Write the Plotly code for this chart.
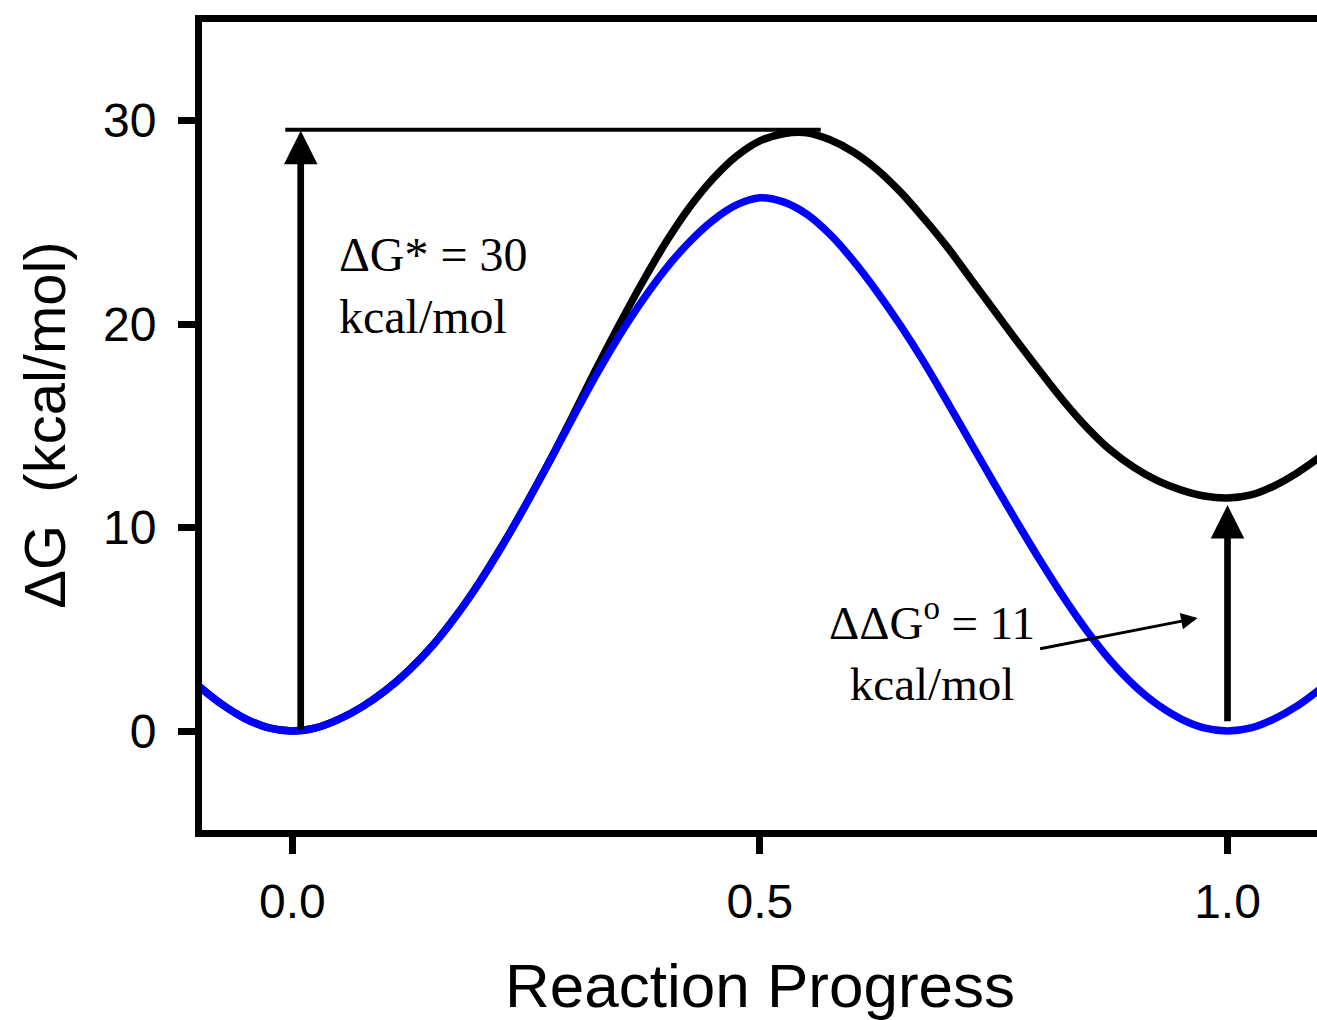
import plotly.graph_objects as go

# Reaction coordinate samples
progress = [-0.100, -0.075, -0.050, -0.025, 0.000, 0.025, 0.050, 0.075, 0.100, 0.125,
            0.150, 0.175, 0.200, 0.225, 0.250, 0.275, 0.300, 0.325, 0.350, 0.375,
            0.400, 0.425, 0.450, 0.475, 0.500, 0.525, 0.550, 0.575, 0.600, 0.625,
            0.650, 0.675, 0.700, 0.725, 0.750, 0.775, 0.800, 0.825, 0.850, 0.875,
            0.900, 0.925, 0.950, 0.975, 1.000, 1.025, 1.050, 1.075, 1.100]
# Blue: symmetric profile (kcal/mol)
dg_symmetric = [2.2, 1.3, 0.6, 0.15, 0.0, 0.15, 0.58, 1.2, 2.0, 3.0,
                4.2, 5.65, 7.3, 9.15, 11.15, 13.25, 15.4, 17.5, 19.45, 21.2,
                22.75, 24.05, 25.1, 25.85, 26.2, 26.0, 25.4, 24.4, 23.1, 21.6,
                19.95, 18.15, 16.2, 14.2, 12.2, 10.25, 8.35, 6.55, 4.9, 3.45,
                2.25, 1.3, 0.6, 0.15, 0.0, 0.15, 0.6, 1.25, 2.1]
# Black: destabilised product profile (kcal/mol)
dg_shifted = [2.2, 1.3, 0.6, 0.15, 0.0, 0.15, 0.58, 1.2, 2.0, 3.0,
              4.2, 5.65, 7.3, 9.15, 11.15, 13.25, 15.5, 17.8, 20.0, 22.1,
              24.05, 25.75, 27.15, 28.25, 29.0, 29.35, 29.4, 29.05, 28.45, 27.6,
              26.5, 25.2, 23.8, 22.25, 20.7, 19.15, 17.65, 16.2, 14.9, 13.8,
              12.95, 12.3, 11.85, 11.55, 11.45, 11.6, 12.05, 12.7, 13.5]

x_tick_vals = [0.0, 0.5, 1.0]
x_tick_text = ["0.0", "0.5", "1.0"]
y_tick_vals = [0, 10, 20, 30]
y_tick_text = ["0", "10", "20", "30"]

barrier_value = 29.5     # ΔG* arrow top
barrier_line_end = 0.565
product_min = 11.1       # ΔΔG° arrow top
arrow1_x = 0.009
arrow2_x = 1.0

SANS = "Liberation Sans, Arial, Helvetica, sans-serif"
SERIF = "Liberation Serif, Times New Roman, Times, serif"

fig = go.Figure()
fig.add_trace(go.Scatter(x=progress, y=dg_shifted, mode="lines",
                         line=dict(color="#000000", width=7.5, shape="spline", smoothing=1),
                         showlegend=False, hoverinfo="skip"))
fig.add_trace(go.Scatter(x=progress, y=dg_symmetric, mode="lines",
                         line=dict(color="#0000FF", width=7.5, shape="spline", smoothing=1),
                         showlegend=False, hoverinfo="skip"))

# horizontal reference line at the barrier top
fig.add_shape(type="line", xref="x", yref="y", x0=-0.0075, x1=barrier_line_end,
              y0=barrier_value + 0.05, y1=barrier_value + 0.05,
              line=dict(color="black", width=4), layer="above")

annotations = [
    # ΔG* arrow
    dict(x=arrow1_x, y=barrier_value, ax=arrow1_x, ay=0.0, xref="x", yref="y",
         axref="x", ayref="y", showarrow=True, arrowhead=2, arrowsize=1,
         arrowwidth=6.7, arrowcolor="black", text=""),
    # ΔΔG° arrow
    dict(x=arrow2_x, y=product_min, ax=arrow2_x, ay=0.4, xref="x", yref="y",
         axref="x", ayref="y", showarrow=True, arrowhead=2, arrowsize=1,
         arrowwidth=6.7, arrowcolor="black", text=""),
    # small pointer arrow
    dict(x=0.968, y=5.55, ax=0.798, ay=4.03, xref="x", yref="y",
         axref="x", ayref="y", showarrow=True, arrowhead=2, arrowsize=1.1,
         arrowwidth=3, arrowcolor="black", text=""),
    # labels
    dict(x=0.048, y=21.9, xref="x", yref="y", text="ΔG* = 30<br>kcal/mol",
         showarrow=False, xanchor="left", yanchor="middle", align="left",
         font=dict(family=SERIF, size=48, color="black")),
    dict(x=0.684, y=4.0, xref="x", yref="y", text="ΔΔG<sup>o</sup> = 11<br>kcal/mol",
         showarrow=False, xanchor="center", yanchor="middle", align="center",
         font=dict(family=SERIF, size=47, color="black")),
    # axis titles
    dict(x=0.5, y=-0.193, xref="x", yref="paper", text="Reaction Progress",
         showarrow=False, xanchor="center", yanchor="middle",
         font=dict(family=SANS, size=62, color="black")),
    dict(x=-0.1408, y=15, xref="paper", yref="y", text="ΔG  (kcal/mol)",
         showarrow=False, xanchor="center", yanchor="middle", textangle=-90,
         font=dict(family=SANS, size=58, color="black")),
]

fig.update_layout(
    width=1317, height=1020,
    margin=dict(l=202, r=0, t=22, b=190, pad=0),
    paper_bgcolor="white", plot_bgcolor="white",
    annotations=annotations,
    showlegend=False,
    xaxis=dict(range=[-0.09656, 1.09569], tickvals=x_tick_vals, ticktext=x_tick_text,
               ticks="outside", ticklen=17, tickwidth=7, tickcolor="black",
               showline=True, linewidth=7, linecolor="black", mirror=True,
               showgrid=False, zeroline=False, ticklabelstandoff=6,
               tickfont=dict(family=SANS, size=48, color="black")),
    yaxis=dict(range=[-4.865, 34.84], tickvals=y_tick_vals, ticktext=y_tick_text,
               ticks="outside", ticklen=17, tickwidth=7, tickcolor="black",
               showline=True, linewidth=7, linecolor="black", mirror=False,
               showgrid=False, zeroline=False, ticklabelstandoff=12,
               tickfont=dict(family=SANS, size=48, color="black")),
)

fig.write_html(
    "out.html",
    config={"displayModeBar": False},
    post_script="document.body.style.margin='0px';document.body.style.overflow='hidden';",
)
